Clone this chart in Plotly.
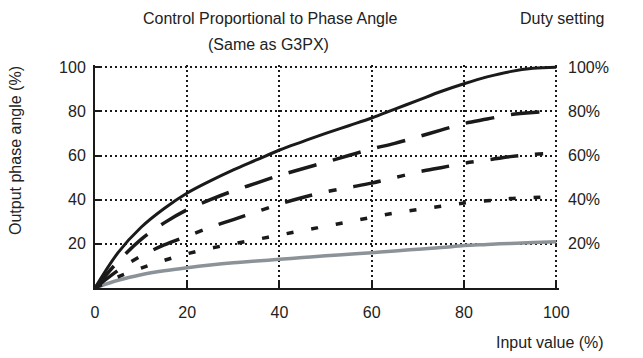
import plotly.graph_objects as go

x_input = [0, 5, 10, 15, 20, 25, 30, 35, 40, 45, 50, 55, 60, 65, 70, 75, 80, 85, 90, 95, 100]
duty_100 = [0, 16, 27.5, 36, 43, 48.5, 53.5, 58, 62.5, 66.3, 70, 73.5, 77, 81, 85, 89, 92.5, 95.6, 98, 99.5, 100]
duty_80 = [0, 12, 22, 29.5, 35.5, 40, 44, 47.5, 51, 54, 57, 60, 63, 65.5, 68.5, 71.5, 74.5, 76.5, 78.5, 79.5, 80]
duty_60 = [0, 8, 14.5, 19.5, 23.5, 27.5, 31, 34.5, 38, 41, 43.5, 45.5, 47.5, 50, 52.5, 54.5, 56.5, 58, 59.5, 60.5, 61]
duty_40 = [0, 5, 9, 12.5, 15.5, 18, 20, 22, 24, 26, 28, 30, 32, 34, 35.5, 37, 38.5, 39.5, 40.5, 41, 41.5]
duty_20 = [0, 3.5, 6, 7.8, 9.2, 10.4, 11.4, 12.2, 13, 13.8, 14.6, 15.3, 16, 16.8, 17.6, 18.3, 19.2, 19.7, 20.2, 20.6, 21]

y_ticks = [20, 40, 60, 80, 100]
x_ticks = [0, 20, 40, 60, 80, 100]
duty_labels = ["20%", "40%", "60%", "80%", "100%"]

FONT = "Liberation Sans, Arial, sans-serif"
INK = "#1a1a1a"

# page body adds an 8px offset; plot area sized so that grid lines at 100 are kept
OFF = 8
L, T, W, H = 87, 57, 464, 223
R = 643 - L - W
B = 358 - T - H

fig = go.Figure()
fig.add_trace(go.Scatter(x=x_input, y=duty_20, mode="lines", line=dict(color="#8c9398", width=3.5, shape="spline")))
fig.add_trace(go.Scatter(x=x_input, y=duty_40, mode="lines", line=dict(color=INK, width=3.5, dash="7px,18px", shape="spline")))
fig.add_trace(go.Scatter(x=x_input, y=duty_60, mode="lines", line=dict(color=INK, width=3.5, dash="28px,17px,8px,17px", shape="spline")))
fig.add_trace(go.Scatter(x=x_input, y=duty_80, mode="lines", line=dict(color=INK, width=3.5, dash="29px,17px", shape="spline")))
fig.add_trace(go.Scatter(x=x_input, y=duty_100, mode="lines", line=dict(color=INK, width=3, shape="spline")))
fig.add_trace(go.Scatter(x=[0, 100], y=[0, 100], yaxis="y2", mode="lines", line=dict(width=0),
                         hoverinfo="skip", showlegend=False, opacity=0))

axis_common = dict(showgrid=True, gridcolor=INK, gridwidth=2, griddash="2px,3px",
                   showline=True, linecolor=INK, linewidth=2, ticks="inside", ticklen=6,
                   tickwidth=2, tickcolor=INK, zeroline=False)

fig.update_layout(
    width=643, height=358,
    margin=dict(l=L, r=R, t=T, b=B),
    paper_bgcolor="white", plot_bgcolor="white",
    showlegend=False,
    font=dict(family=FONT, size=16, color="#222"),
    xaxis=dict(range=[0, 100.6], tickvals=x_ticks, ticklabelstandoff=9, **axis_common),
    yaxis=dict(range=[0, 101], tickvals=y_ticks, ticklabelstandoff=4, **axis_common),
    yaxis2=dict(range=[0, 101], overlaying="y", side="right", tickvals=y_ticks, ticktext=duty_labels,
                showgrid=False, showline=False, ticks="", ticklabelstandoff=8, zeroline=False),
)


def px2paper(px, py):
    return (px - OFF - L) / W, (358 - B - (py - OFF)) / H


texts = [
    ("Control Proportional to Phase Angle", 270, 18, "center", 0),
    ("(Same as G3PX)", 268, 45, "center", 0),
    ("Duty setting", 606, 18, "right", 0),
    ("Output phase angle (%)", 15, 151, "center", -90),
    ("Input value (%)", 606, 342, "right", 0),
]
for txt, px, py, xa, ang in texts:
    ax_, ay_ = px2paper(px, py)
    fig.add_annotation(text=txt, x=ax_, y=ay_, xref="paper", yref="paper", xanchor=xa,
                       yanchor="middle", textangle=ang, showarrow=False)

fig.write_html("out.html")
